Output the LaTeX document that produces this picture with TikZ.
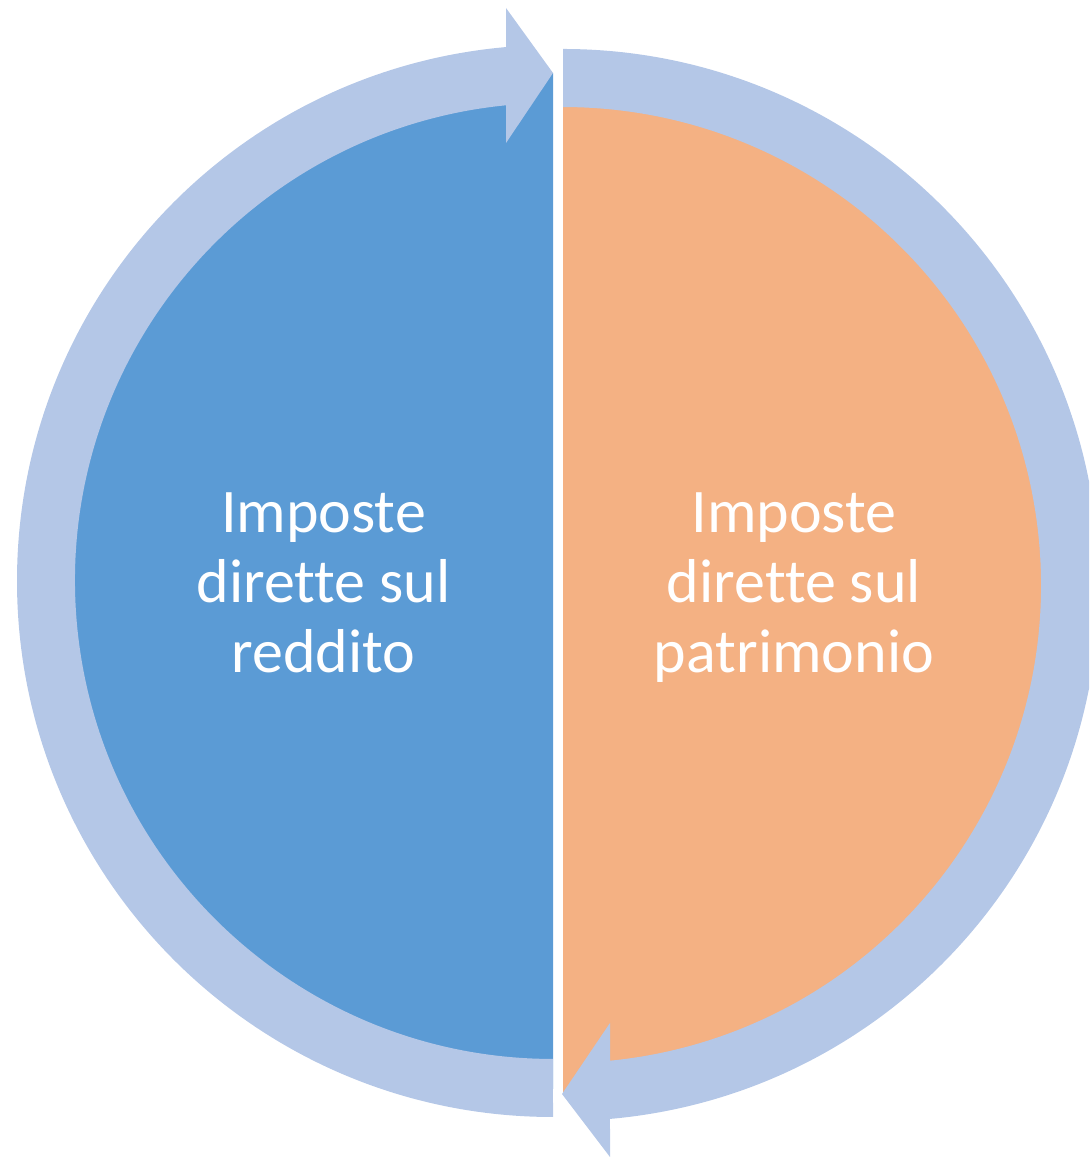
\documentclass[tikz,border=0pt]{standalone}
\usepackage{fontspec}
\setmainfont[Ligatures=NoCommon,RawFeature=-liga]{Carlito}
\definecolor{ringc}{HTML}{B4C7E7}
\definecolor{bluec}{HTML}{5B9BD5}
\definecolor{orangec}{HTML}{F4B183}
\begin{document}
\begin{tikzpicture}[x=1pt,y=1pt,
  ringseg/.style={fill=ringc, draw=none},
  seglabel/.style={text=white, align=center, font=\fontsize{62}{70}\selectfont, inner sep=0pt}]
\useasboundingbox (0,0) rectangle (1089,1158);
\clip (0,0) rectangle (1089,1158);
% half discs
\fill[bluec] (553,1085) arc[start angle=90,end angle=270,radius=508] -- cycle;
\fill[orangec] (563,1081) arc[start angle=90,end angle=-90,radius=508] -- cycle;
% left ring segment with arrow head at top
\fill[ringseg] (553,41) arc[start angle=270,end angle=95.03,radius=536]
  -- (506,1150) -- (553,1085) -- (506,1015) -- (506,1052.7)
  arc[start angle=95.64,end angle=270,radius=478] -- cycle;
% right ring segment with arrow head at bottom
\fill[ringseg] (563,1109) arc[start angle=90,end angle=-84.97,radius=536]
  -- (610,1) -- (562,64) -- (610,135) -- (610,97.3)
  arc[start angle=-84.36,end angle=90,radius=478] -- cycle;
% labels
\node[seglabel] (reddito) at (323.5,575) {Imposte\\dirette sul\\reddito};
\node[seglabel] (patrimonio) at (794,570) {Imposte\\dirette sul\\patrimonio};
\end{tikzpicture}
\end{document}
